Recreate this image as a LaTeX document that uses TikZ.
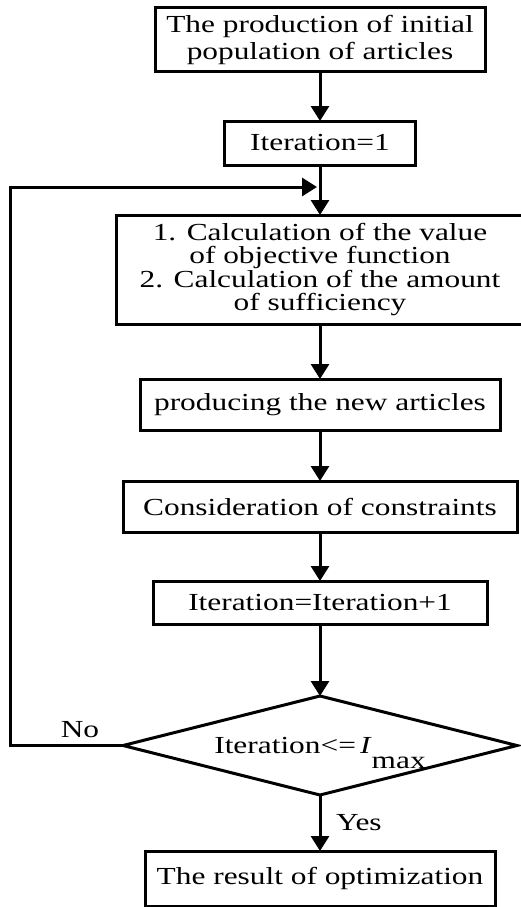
\documentclass[tikz,border=0pt]{standalone}
\usepackage{fontspec}
\setmainfont{Liberation Serif}[FakeStretch=1.28]
\usetikzlibrary{arrows.meta,shapes.geometric,positioning}
\tikzset{
every node/.style={font=\fontsize{24.5}{27}\selectfont,inner sep=0pt,outer sep=0pt},
style1/.style= {draw,rectangle,line width=3pt,align=center},
style2/.style= {draw,diamond,aspect=4,line width=3pt,minimum width=394pt,minimum height=99pt},
style3/.style= {align=center}
}

\begin{document}
\begin{tikzpicture}[
x=1pt,y=1pt,
line width=3pt,
>={Triangle[width=18pt,length=15pt]}]
\useasboundingbox (0,0) rectangle (521,-907);

\node[style1,minimum width=330pt,minimum height=63pt] (init) at (320,-39.5) {The production of initial\\population of articles};
\node[style1,below=50pt of init,minimum width=191pt,minimum height=44pt] (iter1) {Iteration=1};
\node[style1,below=50pt of iter1,minimum width=408pt,minimum height=109pt,font=\fontsize{24.5}{23.5}\selectfont] (calc) {1. Calculation of the value\\of objective function\\2. Calculation of the amount\\of sufficiency};
\node[style1,below=55pt of calc,minimum width=360pt,minimum height=51pt] (newart) {producing the new articles};
\node[style1,below=51pt of newart,minimum width=394pt,minimum height=51pt] (constr) {Consideration of constraints};
\node[style1,below=49pt of constr,minimum width=334pt,minimum height=43pt] (iterinc) {Iteration=Iteration+1};
\node[style2,below=72pt of iterinc] (check) {Iteration<=\,\textit{I}\raisebox{-15pt}[0pt][0pt]{max}};
\node[style1,below=56pt of check,minimum width=350pt,minimum height=55pt] (result) {The result of optimization};

\coordinate[below=22pt of iter1] (join);

\draw[->] (init) -- (iter1);
\draw[->] (iter1) -- (calc);
\draw[->] (calc) -- (newart);
\draw[->] (newart) -- (constr);
\draw[->] (constr) -- (iterinc);
\draw[->] (iterinc) -- (check);
\draw[->] (check) -- node[style3,right=16pt] (yes) {Yes} (result);
\draw[->,shorten >=3pt] (check.west) -- ++(-113,0) |- (join);

\node[style3,xshift=-43pt,yshift=16pt] (no) at (check.west) {No};
\end{tikzpicture}
\end{document}
